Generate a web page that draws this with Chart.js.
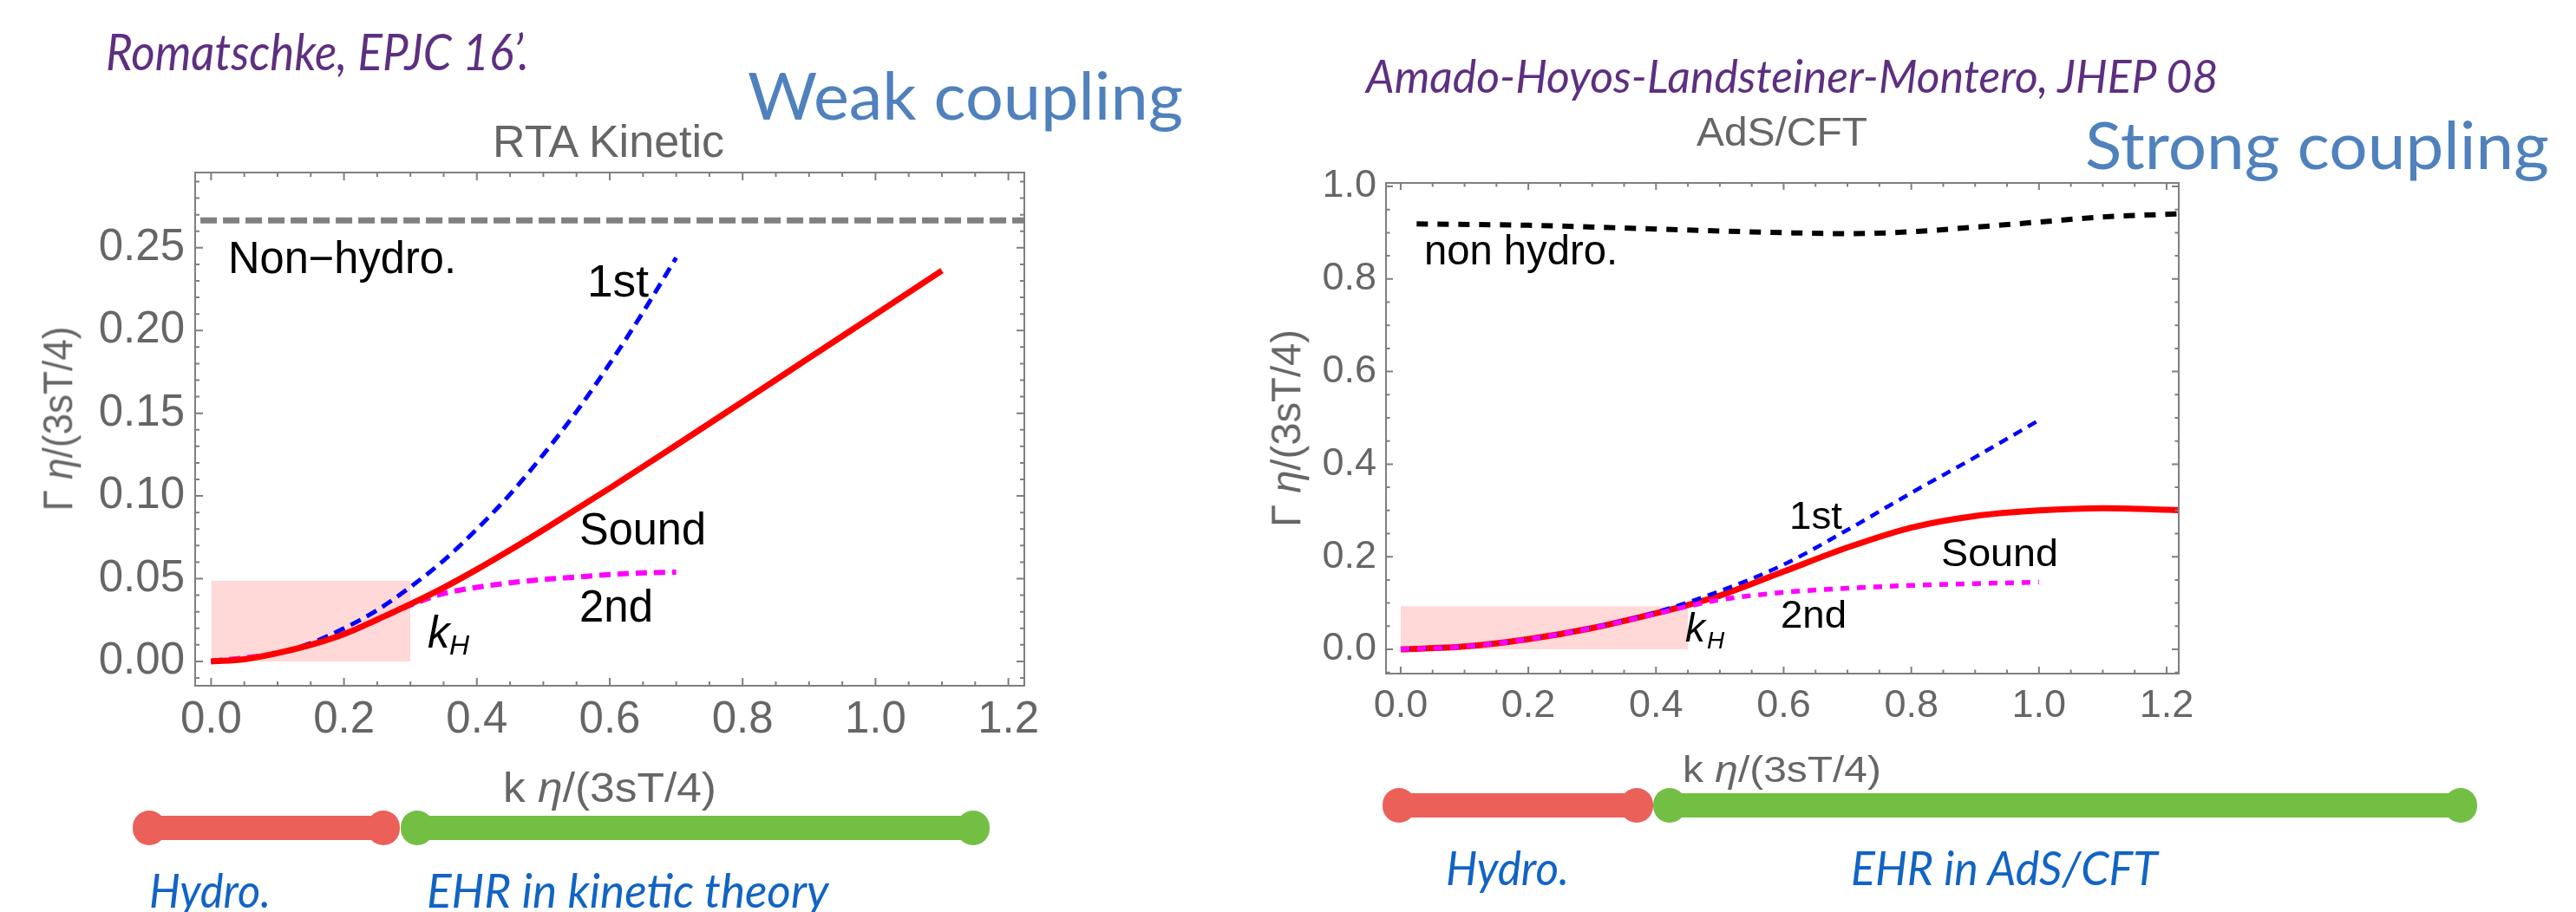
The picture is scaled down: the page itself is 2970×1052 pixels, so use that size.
<!DOCTYPE html>
<html>
<head>
<meta charset="utf-8">
<script src="https://cdn.jsdelivr.net/npm/chart.js@4.4.0/dist/chart.umd.min.js"></script>
<style>
  html, body { margin: 0; padding: 0; background: #fff; }
  #page { position: relative; width: 2970px; height: 1052px; overflow: hidden; background: #fff; }
  .box { position: absolute; }
  .t { position: absolute; white-space: pre; margin: 0; padding: 0; }
  .blob { position: absolute; }
</style>
</head>
<body>
<div id="page">
  <div class="box" style="left:0;top:0;width:1485px;height:1052px"><canvas id="left"></canvas></div>
  <div class="box" style="left:1485px;top:0;width:1485px;height:1052px"><canvas id="right"></canvas></div>
</div>
<script>
// ---- left panel : RTA kinetic theory ----
const kSoundL  = [0, 0.05, 0.1, 0.15, 0.2, 0.25, 0.3, 0.35, 0.4, 0.45, 0.5, 0.6, 0.7, 0.8, 0.9, 1.0, 1.1];
const soundL   = [0, 0.0013, 0.005, 0.010, 0.0165, 0.0253, 0.0346, 0.0446, 0.0556, 0.0673, 0.0795, 0.1047, 0.1307, 0.157, 0.1834, 0.2098, 0.2362];
const kFirstL  = [0, 0.05, 0.1, 0.15, 0.2, 0.25, 0.3, 0.35, 0.4, 0.45, 0.5, 0.55, 0.6, 0.65, 0.7];
const firstL   = [0, 0.0013, 0.005, 0.011, 0.020, 0.031, 0.045, 0.061, 0.080, 0.101, 0.125, 0.151, 0.180, 0.211, 0.244];
const kSecondL = [0, 0.1, 0.2, 0.25, 0.3, 0.35, 0.4, 0.45, 0.5, 0.55, 0.6, 0.65, 0.7];
const secondL  = [0, 0.005, 0.0165, 0.025, 0.034, 0.041, 0.0448, 0.0475, 0.0495, 0.051, 0.0525, 0.0535, 0.054];
const kNonHydroL = [-0.05, 1.3];
const nonHydroL  = [0.2665, 0.2665];
const hydroBoxL  = { k: 0.3, gamma: 0.0487 };

// ---- right panel : AdS/CFT ----
const kSoundR  = [0, 0.1, 0.2, 0.3, 0.4, 0.45, 0.5, 0.6, 0.7, 0.8, 0.9, 1.0, 1.1, 1.25];
const soundR   = [0, 0.006, 0.022, 0.046, 0.078, 0.096, 0.116, 0.168, 0.220, 0.263, 0.288, 0.300, 0.305, 0.299];
const kFirstR  = [0, 0.1, 0.2, 0.3, 0.4, 0.5, 0.6, 0.7, 0.8, 0.9, 1.0];
const firstR   = [0, 0.006, 0.022, 0.047, 0.080, 0.126, 0.183, 0.258, 0.338, 0.415, 0.495];
const kSecondR = [0, 0.1, 0.2, 0.3, 0.4, 0.45, 0.5, 0.6, 0.7, 0.8, 0.9, 1.0];
const secondR  = [0, 0.006, 0.022, 0.046, 0.077, 0.093, 0.107, 0.123, 0.132, 0.138, 0.142, 0.145];
const kNonHydroR = [0.025, 0.2, 0.4, 0.6, 0.7, 0.8, 0.9, 1.0, 1.1, 1.25];
const nonHydroR  = [0.919, 0.916, 0.908, 0.900, 0.898, 0.902, 0.912, 0.923, 0.934, 0.942];
const hydroBoxR  = { k: 0.45, gamma: 0.093 };

const xTicksL = 0.2, yTicksL = 0.05;
const xTicksR = 0.2, yTicksR = 0.2;

const pts = (xs, ys) => xs.map((x, i) => ({ x: x, y: ys[i] }));
const GRAY = '#666666';

// frame with inward ticks on all four sides (Mathematica style)
const frameTicks = {
  id: 'frameTicks',
  afterDatasetsDraw(chart, args, o) {
    const { ctx, chartArea: a, scales: { x, y } } = chart;
    ctx.save();
    ctx.strokeStyle = '#7f7f7f';
    ctx.lineWidth = 2;
    ctx.beginPath();
    const line = (x1, y1, x2, y2) => { ctx.moveTo(x1, y1); ctx.lineTo(x2, y2); };
    const isMajor = (v, step) => Math.abs(v / step - Math.round(v / step)) < 1e-6;
    for (let i = Math.ceil(x.min / o.xMinor - 1e-9); i * o.xMinor <= x.max + 1e-9; i++) {
      const v = i * o.xMinor, px = x.getPixelForValue(v);
      const L = isMajor(v, o.xMajor) ? o.major : o.minor;
      line(px, a.bottom, px, a.bottom - L);
      line(px, a.top, px, a.top + L);
    }
    for (let i = Math.ceil(y.min / o.yMinor - 1e-9); i * o.yMinor <= y.max + 1e-9; i++) {
      const v = i * o.yMinor, py = y.getPixelForValue(v);
      const L = isMajor(v, o.yMajor) ? o.major : o.minor;
      line(a.left, py, a.left + L, py);
      line(a.right, py, a.right - L, py);
    }
    ctx.stroke();
    ctx.strokeRect(a.left, a.top, a.right - a.left, a.bottom - a.top);
    ctx.restore();
  }
};

function makeChart(id, c) {
  return new Chart(document.getElementById(id), {
    type: 'scatter',
    data: { datasets: c.datasets },
    options: {
      responsive: true,
      maintainAspectRatio: false,
      animation: false,
      layout: { padding: c.padding },
      elements: { point: { radius: 0, hoverRadius: 0 } },
      plugins: {
        legend: { display: false },
        tooltip: { enabled: false },
        frameTicks: c.frame
      },
      scales: {
        x: {
          type: 'linear', min: c.xmin, max: c.xmax,
          afterFit: s => { s.height = c.xh; },
          grid: { display: false, drawTicks: false },
          border: { display: false },
          ticks: {
            stepSize: c.xstep, includeBounds: false, padding: c.xpad, color: GRAY,
            font: { family: 'Liberation Sans', size: c.fs },
            callback: v => v.toFixed(1)
          }
        },
        y: {
          type: 'linear', min: c.ymin, max: c.ymax,
          afterFit: s => { s.width = c.yw; },
          grid: { display: false, drawTicks: false },
          border: { display: false },
          ticks: {
            stepSize: c.ystep, includeBounds: false, padding: c.ypad, color: GRAY,
            font: { family: 'Liberation Sans', size: c.fs },
            callback: v => v.toFixed(c.ydec)
          }
        }
      }
    },
    plugins: [frameTicks]
  });
}

const line = (data, color, width, dash, extra) => Object.assign({
  data: data, showLine: true, borderColor: color, borderWidth: width,
  borderDash: dash, fill: false, pointRadius: 0, cubicInterpolationMode: 'monotone'
}, extra || {});

const box = (b) => ({
  data: [{ x: 0, y: b.gamma }, { x: b.k, y: b.gamma }],
  showLine: true, borderWidth: 0, borderColor: 'rgba(0,0,0,0)',
  backgroundColor: '#ffd8d8', fill: { value: 0 }, pointRadius: 0
});

makeChart('left', {
  datasets: [
    line(pts(kSoundL, soundL), '#ff0000', 7, []),
    line(pts(kFirstL, firstL), '#0000ff', 5, [13, 8]),
    line(pts(kSecondL, secondL), '#ff00ff', 6, [13, 8]),
    line(pts(kNonHydroL, nonHydroL), '#808080', 7, [19, 7]),
    box(hydroBoxL)
  ],
  padding: { left: 0, top: 199, right: 304, bottom: 0 },
  xmin: -0.024, xmax: 1.224, ymin: -0.0147, ymax: 0.2955,
  xstep: xTicksL, ystep: yTicksL, ydec: 2,
  xh: 261, yw: 225, xpad: 9, ypad: 12, fs: 51,
  frame: { xMinor: 0.05, xMajor: 0.2, yMinor: 0.01, yMajor: 0.05, major: 9, minor: 5 }
});

makeChart('right', {
  datasets: [
    line(pts(kSecondR, secondR), '#ff00ff', 5.5, [10, 9]),
    line(pts(kFirstR, firstR), '#0000ff', 4.5, [11, 8]),
    line(pts(kSoundR, soundR), '#ff0000', 7, []),
    line(pts(kNonHydroR, nonHydroR), '#000000', 6, [13, 11]),
    box(hydroBoxR)
  ],
  padding: { left: 0, top: 211, right: 458, bottom: 0 },
  xmin: -0.023, xmax: 1.219, ymin: -0.0524, ymax: 1.0075,
  xstep: xTicksR, ystep: yTicksR, ydec: 1,
  xh: 275, yw: 113, xpad: 11, ypad: 11, fs: 45,
  frame: { xMinor: 0.05, xMajor: 0.2, yMinor: 0.05, yMajor: 0.2, major: 8, minor: 4.5 }
});

// ---- text placed on the slide ----
const page = document.getElementById('page');
const mctx = document.createElement('canvas').getContext('2d');
function txt(html, plain, o) {
  const font = (o.italic ? 'italic ' : '') + (o.weight || 400) + ' ' + o.size + 'px ' + (o.family || '"Liberation Sans"');
  mctx.font = font;
  const m = mctx.measureText(plain);
  const asc = m.fontBoundingBoxAscent, desc = m.fontBoundingBoxDescent;
  const sx = o.w ? o.w / m.width : 1;
  const d = document.createElement('div');
  d.className = 't';
  d.innerHTML = html;
  d.style.font = font;
  d.style.lineHeight = (asc + desc) + 'px';
  d.style.color = o.color || '#000';
  if (o.rot) {
    d.style.left = (o.cx - m.width / 2) + 'px';
    d.style.top = (o.cy - (asc + desc) / 2) + 'px';
    d.style.transformOrigin = 'center center';
    d.style.transform = 'rotate(-90deg) scaleX(' + sx + ')';
  } else {
    d.style.left = o.x + 'px';
    d.style.top = (o.base - asc) + 'px';
    d.style.transformOrigin = 'left top';
    d.style.transform = 'scaleX(' + sx + ')';
  }
  page.appendChild(d);
}
const T = (s, o) => txt(s, s, o);

const PURPLE = '#5e2f80', STEEL = '#4f81bd', BLUE = '#1164c4';
const LATO = 'Lato';

// left panel
T('Romatschke, EPJC 16’.', { x: 122, base: 81, w: 488, size: 58, family: LATO, italic: true, color: PURPLE });
T('Weak coupling', { x: 862, base: 138, w: 502, size: 75, family: LATO, color: STEEL });
T('RTA Kinetic', { x: 568, base: 181, w: 270, size: 51, color: GRAY });
txt('k <i>η</i>/(3sT/4)', 'k η/(3sT/4)', { x: 580, base: 925, w: 246, size: 49, color: GRAY });
txt('Γ <i>η</i>/(3sT/4)', 'Γ η/(3sT/4)', { rot: true, cx: 66, cy: 483, w: 213, size: 49, color: GRAY });
T('Non−hydro.', { x: 263, base: 315, w: 263, size: 51 });
T('1st', { x: 677, base: 342, w: 71, size: 51 });
T('Sound', { x: 668, base: 628, w: 146, size: 51 });
T('2nd', { x: 668, base: 717, w: 85, size: 51 });
T('k', { x: 493, base: 747, size: 51, italic: true });
T('H', { x: 518, base: 755, size: 32, italic: true });
T('Hydro.', { x: 172, base: 1047, w: 140, size: 54, family: LATO, italic: true, color: BLUE });
T('EHR in kinetic theory', { x: 492, base: 1047, w: 464, size: 54, family: LATO, italic: true, color: BLUE });

// right panel
T('Amado-Hoyos-Landsteiner-Montero, JHEP 08', { x: 1575, base: 107, w: 985, size: 53, family: LATO, italic: true, color: PURPLE });
T('Strong coupling', { x: 2404, base: 195, w: 535, size: 75, family: LATO, color: STEEL });
T('AdS/CFT', { x: 1956, base: 168, w: 197, size: 47, color: GRAY });
txt('k <i>η</i>/(3sT/4)', 'k η/(3sT/4)', { x: 1940, base: 902, w: 229, size: 43, color: GRAY });
txt('Γ <i>η</i>/(3sT/4)', 'Γ η/(3sT/4)', { rot: true, cx: 1482, cy: 494, w: 228, size: 49, color: GRAY });
T('non hydro.', { x: 1642, base: 305, w: 223, size: 48 });
T('1st', { x: 2063, base: 610, w: 61, size: 45 });
T('Sound', { x: 2238, base: 653, w: 135, size: 45 });
T('2nd', { x: 2053, base: 724, w: 76, size: 45 });
T('k', { x: 1943, base: 740, size: 46, italic: true });
T('H', { x: 1968, base: 748, size: 28, italic: true });
T('Hydro.', { x: 1667, base: 1021, w: 142, size: 54, family: LATO, italic: true, color: BLUE });
T('EHR in AdS/CFT', { x: 2134, base: 1021, w: 355, size: 54, family: LATO, italic: true, color: BLUE });

// brush-stroke bars under each panel
function blob(x1, x2, cy, color) {
  const mk = (l, t, w, h, r) => {
    const d = document.createElement('div');
    d.className = 'blob';
    d.style.cssText = 'left:' + l + 'px;top:' + t + 'px;width:' + w + 'px;height:' + h + 'px;border-radius:' + r + 'px;background:' + color;
    page.appendChild(d);
  };
  mk(x1 + 10, cy - 14, x2 - x1 - 20, 28, 14);
  mk(x1, cy - 20, 38, 40, 20);
  mk(x2 - 38, cy - 20, 38, 40, 20);
}
blob(153, 461, 955, '#ec605a');
blob(462, 1141, 955, '#72bf44');
blob(1594, 1906, 929, '#ec605a');
blob(1906, 2856, 929, '#72bf44');
</script>
</body>
</html>
